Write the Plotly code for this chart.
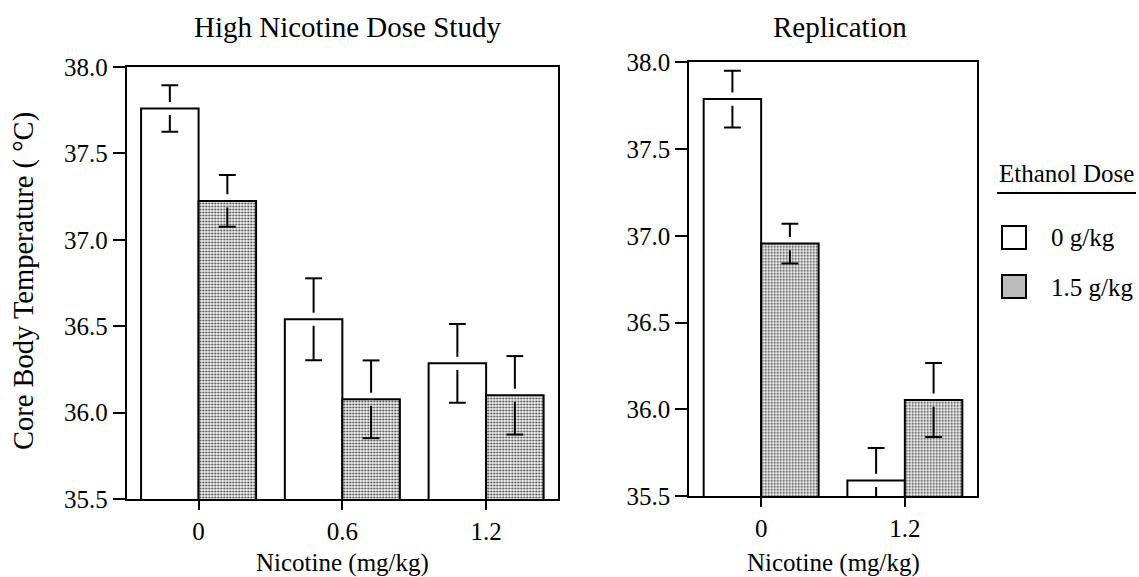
import plotly.graph_objects as go

# ---- data ----
nic_high = ["0", "0.6", "1.2"]
high_eth0 = [37.76, 36.54, 36.285]
high_eth0_se = [0.135, 0.237, 0.228]
high_eth15 = [37.225, 36.077, 36.10]
high_eth15_se = [0.15, 0.225, 0.227]

nic_rep = ["0", "1.2"]
rep_eth0 = [37.788, 35.59]
rep_eth0_se = [0.164, 0.186]
rep_eth15 = [36.955, 36.053]
rep_eth15_se = [0.115, 0.213]

series_names = ["0 g/kg", "1.5 g/kg"]
yticks = [35.5, 36.0, 36.5, 37.0, 37.5, 38.0]

FONT = "Liberation Serif"
W, H = 1139, 577
GAP = 0.038  # visual gap of the error line around the bar top (style)


def px(x):
    return x / W


def py(y):
    return (H - y) / H


pattern = dict(shape=".", size=3, solidity=0.3, fgcolor="#333333", bgcolor="#f4f4f4", fillmode="replace")
white = dict(color="white", line=dict(color="black", width=2))
gray = dict(color="#bbbbbb", line=dict(color="black", width=2), pattern=pattern)

fig = go.Figure()


def add_series(cats, vals, ses, marker, name, group, xa, ya):
    fig.add_trace(go.Bar(x=cats, y=vals, name=name, marker=marker, xaxis=xa, yaxis=ya,
                         offsetgroup=group, showlegend=False))
    tops = [v + s for v, s in zip(vals, ses)]
    bots = [v - s for v, s in zip(vals, ses)]
    whisker = [s - GAP for s in ses]
    cap = dict(symbol="line-ew", size=12, color="black", line=dict(color="black", width=2))
    # upper whisker with cap
    fig.add_trace(go.Scatter(x=cats, y=tops, mode="markers", marker=cap, xaxis=xa, yaxis=ya,
                             offsetgroup=group, showlegend=False, hoverinfo="skip",
                             error_y=dict(type="data", symmetric=False, array=[0] * len(cats),
                                          arrayminus=whisker, color="black", thickness=2, width=0)))
    # lower whisker with cap
    fig.add_trace(go.Scatter(x=cats, y=bots, mode="markers", marker=cap, xaxis=xa, yaxis=ya,
                             offsetgroup=group, showlegend=False, hoverinfo="skip",
                             error_y=dict(type="data", symmetric=False, array=whisker,
                                          arrayminus=[0] * len(cats), color="black", thickness=2, width=0)))


add_series(nic_high, high_eth0, high_eth0_se, white, series_names[0], "a", "x", "y")
add_series(nic_high, high_eth15, high_eth15_se, gray, series_names[1], "b", "x", "y")
add_series(nic_rep, rep_eth0, rep_eth0_se, white, series_names[0], "a", "x2", "y2")
add_series(nic_rep, rep_eth15, rep_eth15_se, gray, series_names[1], "b", "x2", "y2")

tickfont = dict(family=FONT, size=25, color="black")
xcommon = dict(type="category", showline=True, linewidth=2, linecolor="black", mirror=True,
               ticks="outside", ticklen=9, tickwidth=2, tickcolor="black",
               tickfont=tickfont, showgrid=False, zeroline=False, fixedrange=True)
ycommon = dict(range=[35.5, 38.0], tickvals=yticks, tickformat=".1f", showline=True, linewidth=2,
               linecolor="black", mirror=True, ticks="outside", ticklen=12, tickwidth=2,
               tickcolor="black", tickfont=tickfont, showgrid=False, zeroline=False, fixedrange=True)

fig.update_layout(
    width=W, height=H,
    margin=dict(l=0, r=0, t=0, b=0, autoexpand=False),
    paper_bgcolor="white", plot_bgcolor="white",
    barmode="group", bargap=0.2, bargroupgap=0,
    scattermode="group", scattergap=0.2,
    showlegend=False,
    xaxis=dict(domain=[px(126.7), px(558)], anchor="y", range=[-0.5, 2.5], **xcommon),
    yaxis=dict(domain=[py(499), py(67)], anchor="x", **ycommon),
    xaxis2=dict(domain=[px(689.3), px(976.7)], anchor="y2", range=[-0.5, 1.5], **xcommon),
    yaxis2=dict(domain=[py(496), py(62.3)], anchor="x2", **ycommon),
)

ann_font = dict(family=FONT, size=25, color="black")
title_font = dict(family=FONT, size=29, color="black")
ytitle_font = dict(family=FONT, size=28.5, color="black")
annotations = [
    dict(text="High Nicotine Dose Study", x=px(347), y=py(27), font=title_font),
    dict(text="Replication", x=px(840), y=py(27), font=title_font),
    dict(text="Nicotine (mg/kg)", x=px(342), y=py(563), font=ann_font),
    dict(text="Nicotine (mg/kg)", x=px(833), y=py(563), font=ann_font),
    dict(text="Core Body Temperature ( °C)", x=px(24), y=py(281), textangle=-90, font=ytitle_font),
    dict(text="Ethanol Dose", x=px(997), y=py(173), xanchor="left", font=ann_font),
    dict(text=series_names[0], x=px(1049), y=py(238), xanchor="left", font=ann_font),
    dict(text=series_names[1], x=px(1049), y=py(287), xanchor="left", font=ann_font),
]
for a in annotations:
    a.setdefault("xanchor", "center")
    a.update(xref="paper", yref="paper", yanchor="middle", showarrow=False)
fig.update_layout(annotations=annotations)

shapes = [
    dict(type="line", x0=px(997), x1=px(1136), y0=py(193), y1=py(193), line=dict(color="black", width=2)),
    dict(type="rect", x0=px(1002), x1=px(1026), y0=py(249), y1=py(226), fillcolor="white",
         line=dict(color="black", width=2)),
    dict(type="rect", x0=px(1002), x1=px(1026), y0=py(298), y1=py(275), fillcolor="#bcbcbc",
         line=dict(color="black", width=2)),
]
for s in shapes:
    s.update(xref="paper", yref="paper")
fig.update_layout(shapes=shapes)

fig.write_html("out.html")
